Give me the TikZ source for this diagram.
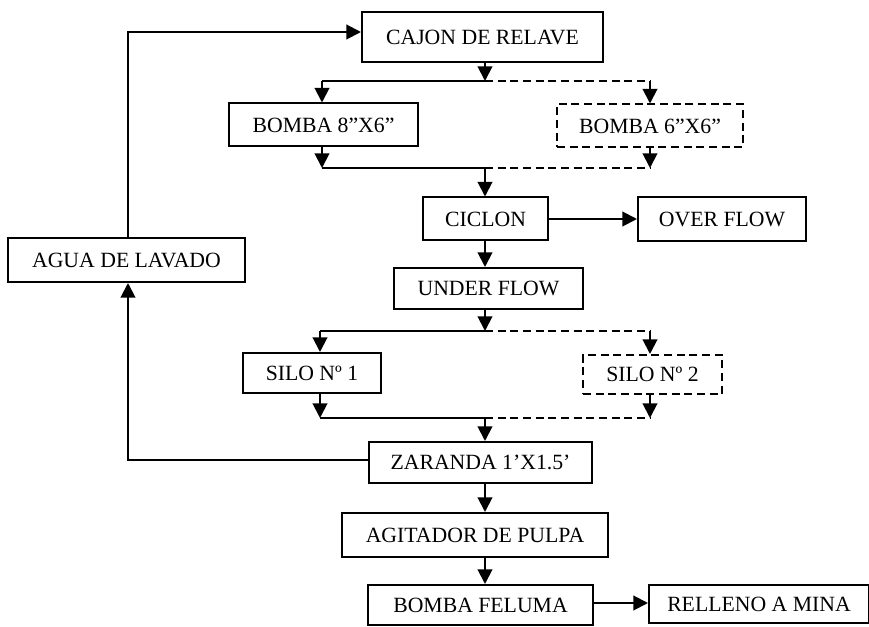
\documentclass[tikz,border=0pt]{standalone}
\usepackage{fontspec}
\setmainfont{Liberation Serif}
\usetikzlibrary{arrows.meta}
\begin{document}
\begin{tikzpicture}[x=0.75pt,y=-0.75pt,
  box/.style={draw,line width=1.5pt,inner sep=0pt,font=\fontsize{16.3}{19}\selectfont},
  dbox/.style={box,dash pattern=on 6pt off 3.5pt},
  ln/.style={line width=1.5pt},
  dln/.style={line width=1.5pt,dash pattern=on 6pt off 3.5pt},
  arr/.style={ln,-{Triangle[length=11pt,width=11pt]}}]
\useasboundingbox (0,0) rectangle (869,627);
\fill[white] (0,0) rectangle (869,627);
% nodes
\node[box,minimum width=241*0.75pt,minimum height=50*0.75pt] (cajon) at (482.5,37) {CAJON DE RELAVE};
\node[box,minimum width=189*0.75pt,minimum height=43*0.75pt] (b8) at (323.5,125) {BOMBA 8”X6”};
\node[dbox,minimum width=186*0.75pt,minimum height=43*0.75pt] (b6) at (650,126) {BOMBA 6”X6”};
\node[box,minimum width=125*0.75pt,minimum height=43*0.75pt] (ciclon) at (485.5,219) {CICLON};
\node[box,minimum width=168*0.75pt,minimum height=44*0.75pt] (over) at (722,219) {OVER FLOW};
\node[box,minimum width=189*0.75pt,minimum height=41*0.75pt] (under) at (488.5,288.5) {UNDER FLOW};
\node[box,minimum width=138*0.75pt,minimum height=40*0.75pt] (silo1) at (312,373) {SILO Nº 1};
\node[dbox,minimum width=139*0.75pt,minimum height=39*0.75pt] (silo2) at (652.5,374.5) {SILO Nº 2};
\node[box,minimum width=237*0.75pt,minimum height=44*0.75pt] (agua) at (126.5,260) {AGUA DE LAVADO};
\node[box,minimum width=223*0.75pt,minimum height=41*0.75pt] (zaranda) at (480.5,462.5) {ZARANDA 1’X1.5’};
\node[box,minimum width=266*0.75pt,minimum height=44*0.75pt] (agit) at (475,535) {AGITADOR DE PULPA};
\node[box,minimum width=225*0.75pt,minimum height=40*0.75pt] (feluma) at (480.5,605) {BOMBA FELUMA};
\node[box,minimum width=220*0.75pt,minimum height=38*0.75pt] (relleno) at (759,604) {RELLENO A MINA};
% coordinates
\coordinate (j1) at (485,81);
\coordinate (j1L) at (322,81);
\coordinate (j1R) at (650,81);
\coordinate (j2) at (485,168);
\coordinate (j2L) at (322,168);
\coordinate (j2R) at (650,168);
\coordinate (j3) at (485,331);
\coordinate (j3L) at (320,331);
\coordinate (j3R) at (650,331);
\coordinate (j4) at (485,418);
\coordinate (j4L) at (320,418);
\coordinate (j4R) at (650,418);
\coordinate (top) at (128,32);
\coordinate (bot) at (128,460);
\coordinate (fr) at (593,603);
% connectors
\draw[arr] (cajon.south -| j1) -- (j1);
\draw[ln] (j1) -- (j1L);
\draw[arr] (j1L) -- (j1L |- b8.north);
\draw[dln] (j1) -- (j1R);
\draw[arr] (j1R) -- (j1R |- b6.north);
\draw[arr] (j2L |- b8.south) -- (j2L);
\draw[arr] (j2R |- b6.south) -- (j2R);
\draw[ln] (j2L) -- (j2);
\draw[dln] (j2) -- (j2R);
\draw[arr] (j2) -- (j2 |- ciclon.north);
\draw[arr] (ciclon.east) -- (ciclon.east -| over.west);
\draw[arr] (ciclon.south -| j2) -- (j2 |- under.north);
\draw[arr] (under.south -| j3) -- (j3);
\draw[ln] (j3) -- (j3L);
\draw[arr] (j3L) -- (j3L |- silo1.north);
\draw[dln] (j3) -- (j3R);
\draw[arr] (j3R) -- (j3R |- silo2.north);
\draw[arr] (j4L |- silo1.south) -- (j4L);
\draw[arr] (j4R |- silo2.south) -- (j4R);
\draw[ln] (j4L) -- (j4);
\draw[dln] (j4) -- (j4R);
\draw[arr] (j4) -- (j4 |- zaranda.north);
\draw[arr] (bot -| zaranda.west) -- (bot) -- (agua.south -| bot);
\draw[arr] (agua.north -| top) -- (top) -- (cajon.west |- top);
\draw[arr] (zaranda.south -| j4) -- (j4 |- agit.north);
\draw[arr] (agit.south -| j4) -- (j4 |- feluma.north);
\draw[arr] (fr) -- (fr -| relleno.west);
\end{tikzpicture}
\end{document}
